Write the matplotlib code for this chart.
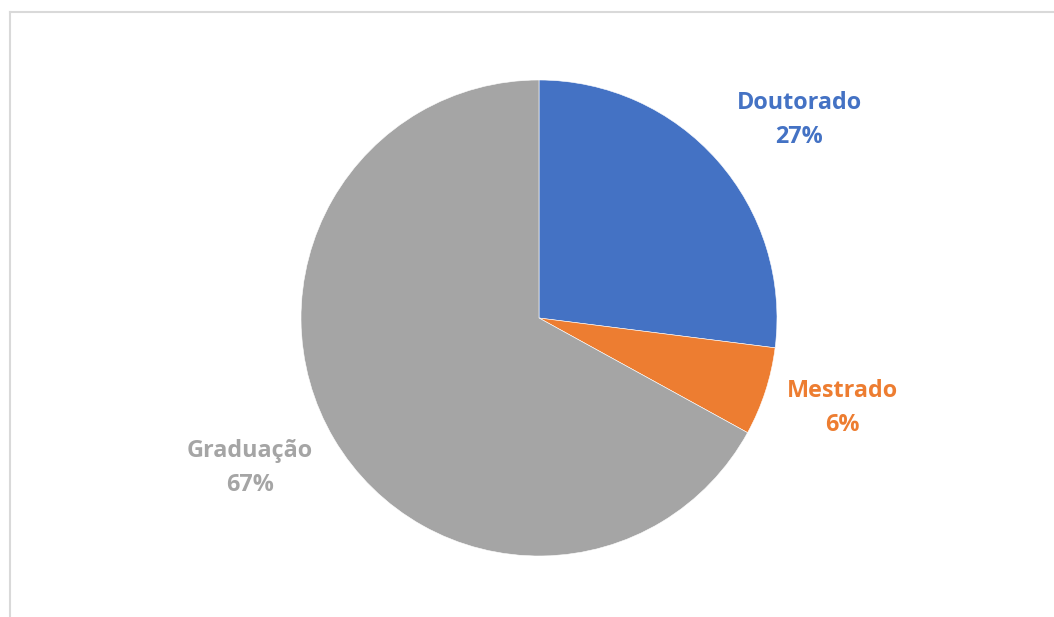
import matplotlib
matplotlib.use("Agg")
import matplotlib.pyplot as plt
from matplotlib.lines import Line2D

categories = ["Doutorado", "Mestrado", "Graduação"]
values = [27, 6, 67]
colors = ["#4472C4", "#ED7D31", "#A5A5A5"]

W, H = 1054, 617
fig = plt.figure(figsize=(W / 100, H / 100), dpi=100)

cx, cy, r = 539, 318, 238
ax = fig.add_axes([(cx - r) / W, (H - cy - r) / H, 2 * r / W, 2 * r / H])
ax.pie(values, colors=colors, startangle=90, counterclock=False, radius=1,
       wedgeprops=dict(edgecolor="white", linewidth=0.4))
ax.set_xlim(-1, 1)
ax.set_ylim(-1, 1)
ax.set_aspect("equal")
ax.axis("off")

label_px = [(799, 120), (842, 408), (250, 468)]
for cat, val, col, (px, py) in zip(categories, values, colors, label_px):
    ax.text((px - cx) / r, (cy - py) / r, f"{cat}\n{val}%", color=col,
            ha="center", va="center", fontsize=16.8, fontweight="bold",
            family="Open Sans", linespacing=1.55)

# chart frame
bc = "#D9D9D9"
fig.add_artist(Line2D([10 / W, 10 / W], [0, (H - 12) / H], color=bc, lw=1.5, transform=fig.transFigure))
fig.add_artist(Line2D([10 / W, 1], [(H - 12) / H, (H - 12) / H], color=bc, lw=1.5, transform=fig.transFigure))

fig.savefig("out.png", dpi=100, facecolor="white")
